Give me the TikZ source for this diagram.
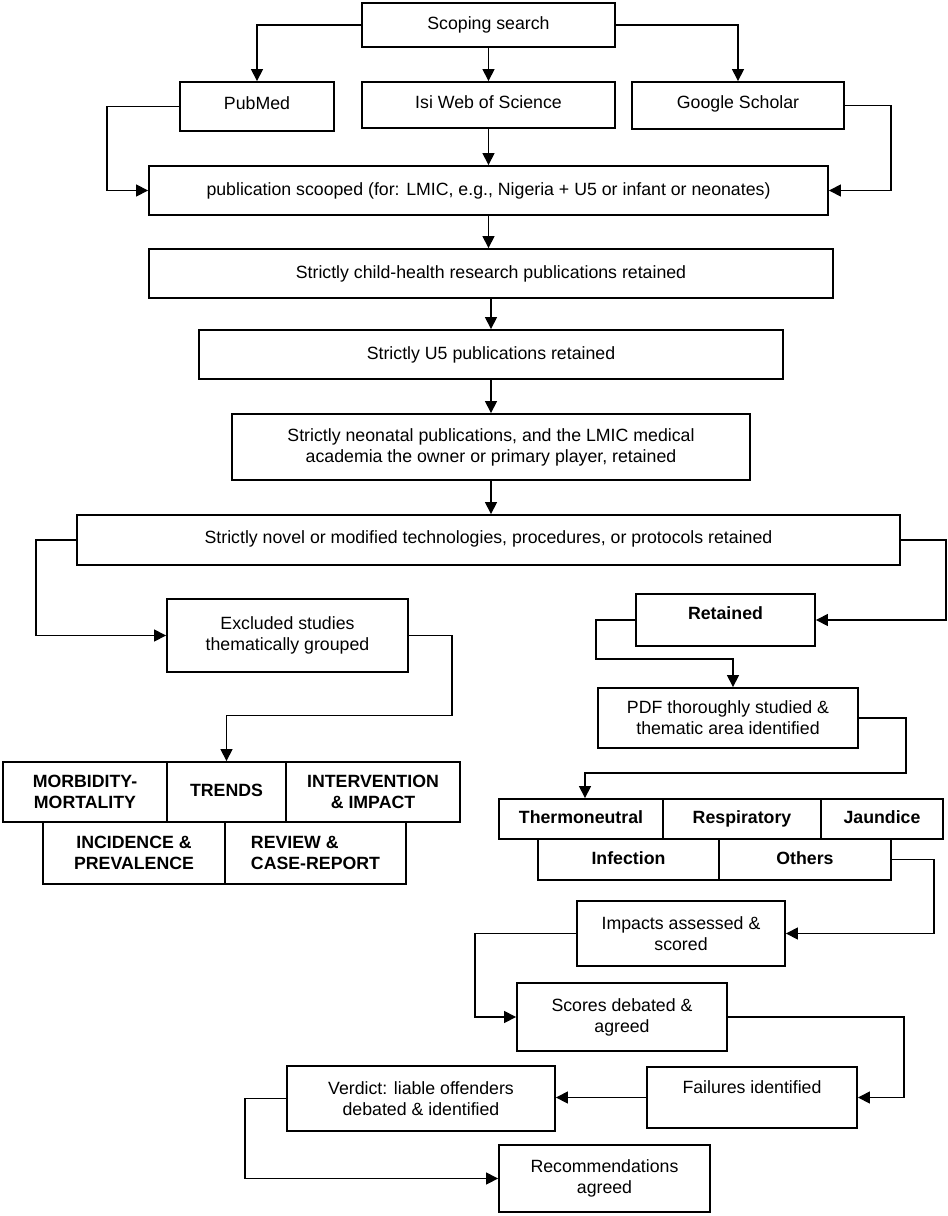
\documentclass[tikz,border=0pt]{standalone}
\usepackage{fontspec}
\setmainfont{Liberation Sans}
\usetikzlibrary{arrows.meta}

\tikzset{every picture/.style={line width=0.75pt}}
\tikzset{
  box/.style={draw, line width=1.4pt, rectangle, inner sep=0pt, align=center,
    font=\fontsize{13.3}{15.75}\selectfont},
  cell/.style={box, font=\fontsize{13.3}{15.75}\selectfont\bfseries},
  oneline/.style={text height=9.6pt, text depth=2.8pt},
  arr/.style={line width=1.1pt, -{Triangle[length=9pt,width=9pt]}},
}

\begin{document}
\begin{tikzpicture}[x=0.75pt,y=0.75pt,yscale=-1,xscale=1]
\useasboundingbox (0,0) rectangle (948,1216);

%Shape: Rectangle - search
\draw (488.5,25) node [box, oneline, minimum width=189.75pt, minimum height=33pt] (scope) {Scoping search};
%Shape: Rectangle - databases
\draw (257,106.5) node [box, oneline, minimum width=115.5pt, minimum height=36.75pt, text depth=5pt] (pubmed) {PubMed};
\draw (488.5,105) node [box, oneline, minimum width=189.75pt, minimum height=34.5pt, text depth=5pt] (isi) {Isi Web of Science};
\draw (738,105.5) node [box, oneline, minimum width=159pt, minimum height=35.25pt, text depth=5pt] (scholar) {Google Scholar};
%Shape: Rectangle - screening
\draw (488.5,190.5) node [box, oneline, minimum width=509.25pt, minimum height=36.75pt] (pub) {publication scooped (for: LMIC, e.g., Nigeria + U5 or infant or neonates)};
\draw (491,273.5) node [box, oneline, minimum width=513pt, minimum height=36.75pt] (child) {Strictly child-health research publications retained};
\draw (491,354.5) node [box, oneline, minimum width=438pt, minimum height=36.75pt] (ufive) {Strictly U5 publications retained};
\draw (491,447) node [box, minimum width=388.5pt, minimum height=49.5pt] (neo) {Strictly neonatal publications, and the LMIC medical\\academia the owner or primary player, retained};
\draw (488.5,540) node [box, oneline, minimum width=617.25pt, minimum height=37.5pt, text depth=4.5pt] (novel) {Strictly novel or modified technologies, procedures, or protocols retained};
%Shape: Rectangle - excluded branch
\draw (287.5,635.5) node [box, minimum width=180.75pt, minimum height=54.75pt] (excl) {Excluded studies\\thematically grouped};
\draw (85,792) node [cell, minimum width=123pt, minimum height=45pt] (morb) {MORBIDITY-\\MORTALITY};
\draw (226.5,792) node [cell, oneline, minimum width=89.25pt, minimum height=45pt] (trends) {TRENDS};
\draw (373,792) node [cell, minimum width=130.5pt, minimum height=45pt] (interv) {INTERVENTION\\\&~IMPACT};
\draw (134,853) node [cell, minimum width=136.5pt, minimum height=46.5pt] (incid) {INCIDENCE \&\\PREVALENCE};
\draw (315.5,853) node [cell, minimum width=135.75pt, minimum height=46.5pt, align=left] (review) {REVIEW \&\\CASE-REPORT};
%Shape: Rectangle - retained branch
\draw (725.5,620) node [cell, oneline, minimum width=134.25pt, minimum height=39pt, text depth=10pt] (ret) {Retained};
\draw (728,718) node [box, minimum width=195pt, minimum height=45pt] (pdf) {PDF thoroughly studied \&\\thematic area identified};
\draw (581,819) node [cell, oneline, minimum width=123pt, minimum height=30pt] (thermo) {Thermoneutral};
\draw (742,819) node [cell, oneline, minimum width=118.5pt, minimum height=30pt] (resp) {Respiratory};
\draw (882,819) node [cell, oneline, minimum width=91.5pt, minimum height=30pt] (jaund) {Jaundice};
\draw (628.5,859.5) node [cell, oneline, minimum width=135.75pt, minimum height=30.75pt] (infect) {Infection};
\draw (805,859.5) node [cell, oneline, minimum width=129pt, minimum height=30.75pt] (others) {Others};
%Shape: Rectangle - assessment
\draw (681,933.5) node [box, minimum width=156pt, minimum height=48.75pt] (impact) {Impacts assessed \&\\scored};
\draw (622,1017) node [box, minimum width=157.5pt, minimum height=51pt] (scores) {Scores debated \&\\agreed};
\draw (752,1097.5) node [box, oneline, minimum width=157.5pt, minimum height=45.75pt, text depth=15pt] (fail) {Failures identified};
\draw (421,1098.5) node [box, minimum width=201pt, minimum height=48.75pt] (verdict) {Verdict: liable offenders\\debated \& identified};
\draw (604.5,1178.5) node [box, minimum width=158.25pt, minimum height=50.25pt] (recom) {Recommendations\\agreed};

%Straight Lines - search
\draw [arr] (scope.west) -| (pubmed.north);
\draw [arr] (scope.south) -- (isi.north);
\draw [arr] (scope.east) -| (scholar.north);
\draw [arr] (pubmed.west) -- ++(-72,0) |- (pub.west);
\draw [arr] (isi.south) -- (pub.north);
\draw [arr] (scholar.east) -- ++(46,0) |- (pub.east);
%Straight Lines - screening
\draw [arr] (pub.south) -- (pub.south |- child.north);
\draw [arr] (child.south) -- (ufive.north);
\draw [arr] (ufive.south) -- (neo.north);
\draw [arr] (neo.south) -- (neo.south |- novel.north);
\draw [arr] (novel.west) -- ++(-40,0) |- (excl.west);
\draw [arr] (novel.east) -- ++(45,0) |- (ret.east);
%Straight Lines - branches
\draw [arr] (excl.east) -| ++(43,80) -| (trends.north);
\draw [arr] (ret.west) -| ++(-39,39) -| ([xshift=3.75pt]pdf.north);
\draw [arr] (pdf.east) -| ++(47,55) -| ([xshift=3pt]thermo.north);
\draw [arr] (others.east) -- ++(42,0) |- (impact.east);
%Straight Lines - assessment
\draw [arr] (impact.west) -- ++(-101,0) |- (scores.west);
\draw [arr] (scores.east) -- ++(176,0) |- (fail.east);
\draw [arr] (fail.west) -- (fail.west -| verdict.east);
\draw [arr] (verdict.west) -- ++(-41,0) |- (recom.west);

\end{tikzpicture}
\end{document}
